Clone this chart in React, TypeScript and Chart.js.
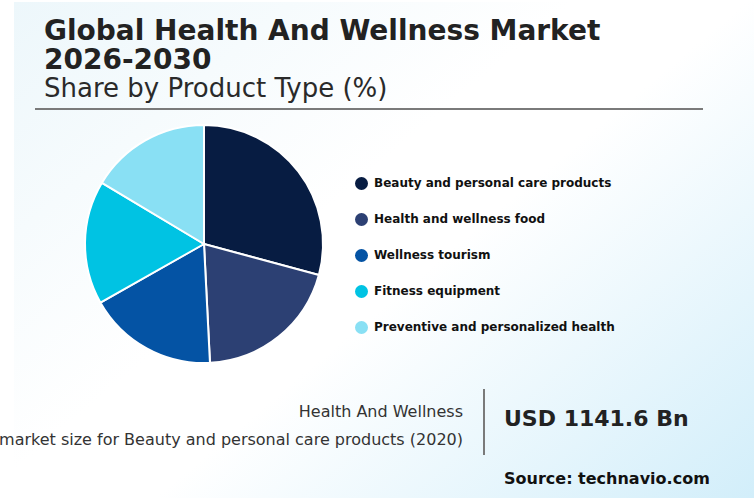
import React, { useEffect, useRef } from 'react';
import Chart from 'chart.js/auto';

const categories = [
  'Beauty and personal care products',
  'Health and wellness food',
  'Wellness tourism',
  'Fitness equipment',
  'Preventive and personalized health',
];
const shares = [29.2, 20.0, 17.6, 16.8, 16.4];
const sliceColors = ['#071c42', '#2c4073', '#0453a4', '#00c3e3', '#89e0f4'];
const titleLines = ['Global Health And Wellness Market', '2026-2030'];

const FONT = '"DejaVu Sans", sans-serif';

function PieChart() {
  const chartRef = useRef<HTMLCanvasElement>(null);
  const chartInstance = useRef<Chart | null>(null);

  useEffect(() => {
    if (!chartRef.current) return;
    if (chartInstance.current) chartInstance.current.destroy();
    const ctx = chartRef.current.getContext('2d');
    if (ctx) {
      chartInstance.current = new Chart(ctx, {
        type: 'pie',
        data: {
          labels: categories,
          datasets: [
            {
              data: shares,
              backgroundColor: sliceColors,
              borderColor: '#ffffff',
              borderWidth: 2,
            },
          ],
        },
        options: {
          animation: false,
          responsive: false,
          radius: 119,
          plugins: {
            legend: { display: false },
            tooltip: { enabled: false },
          },
        },
      });
    }
    return () => {
      if (chartInstance.current) {
        chartInstance.current.destroy();
        chartInstance.current = null;
      }
    };
  }, []);

  return (
    <canvas
      ref={chartRef}
      width={260}
      height={260}
      style={{ position: 'absolute', left: 74, top: 114, width: 260, height: 260 }}
    />
  );
}

export default function App() {
  return (
    <div
      style={{
        position: 'absolute',
        left: 0,
        top: 0,
        width: 754,
        height: 498,
        overflow: 'hidden',
        background: '#ffffff',
        fontFamily: FONT,
      }}
    >
      <div
        style={{
          position: 'absolute',
          left: 14,
          top: 2,
          width: 740,
          height: 496,
          background: 'linear-gradient(140deg, #edf7fb 0%, #ffffff 42%, #ffffff 55%, #d2eefa 100%)',
        }}
      />
      {titleLines.map((t, i) => (
        <div
          key={t}
          style={{
            position: 'absolute',
            left: 44,
            top: 18 + i * 29,
            fontSize: 28,
            lineHeight: '25px',
            fontWeight: 'bold',
            color: '#222222',
            whiteSpace: 'nowrap',
          }}
        >
          {t}
        </div>
      ))}
      <div
        style={{
          position: 'absolute',
          left: 44,
          top: 73,
          fontSize: 26,
          lineHeight: '30px',
          color: '#2a2a2a',
          whiteSpace: 'nowrap',
        }}
      >
        Share by Product Type (%)
      </div>
      <div style={{ position: 'absolute', left: 35, top: 108, width: 668, height: 2, background: '#7a7a7a' }} />

      <PieChart />

      {categories.map((c, i) => (
        <div
          key={c}
          style={{
            position: 'absolute',
            left: 355,
            top: 176 + i * 36,
            height: 14,
            display: 'flex',
            alignItems: 'center',
            whiteSpace: 'nowrap',
          }}
        >
          <span
            style={{
              display: 'inline-block',
              width: 13,
              height: 13,
              borderRadius: '50%',
              background: sliceColors[i],
              marginRight: 6,
            }}
          />
          <span style={{ fontSize: 12, fontWeight: 'bold', color: '#111111' }}>{c}</span>
        </div>
      ))}

      <div
        style={{
          position: 'absolute',
          right: 291,
          top: 398,
          fontSize: 16,
          lineHeight: '28px',
          color: '#333333',
          textAlign: 'right',
          whiteSpace: 'nowrap',
        }}
      >
        Health And Wellness
        <br />
        market size for Beauty and personal care products (2020)
      </div>
      <div style={{ position: 'absolute', left: 483, top: 389, width: 2, height: 66, background: '#7a7a7a' }} />
      <div
        style={{
          position: 'absolute',
          left: 504,
          top: 404,
          fontSize: 22,
          lineHeight: '30px',
          fontWeight: 'bold',
          color: '#222222',
          whiteSpace: 'nowrap',
        }}
      >
        USD 1141.6 Bn
      </div>
      <div
        style={{
          position: 'absolute',
          left: 504,
          top: 467,
          fontSize: 16,
          lineHeight: '24px',
          fontWeight: 'bold',
          color: '#111111',
          whiteSpace: 'nowrap',
        }}
      >
        Source: technavio.com
      </div>
    </div>
  );
}
